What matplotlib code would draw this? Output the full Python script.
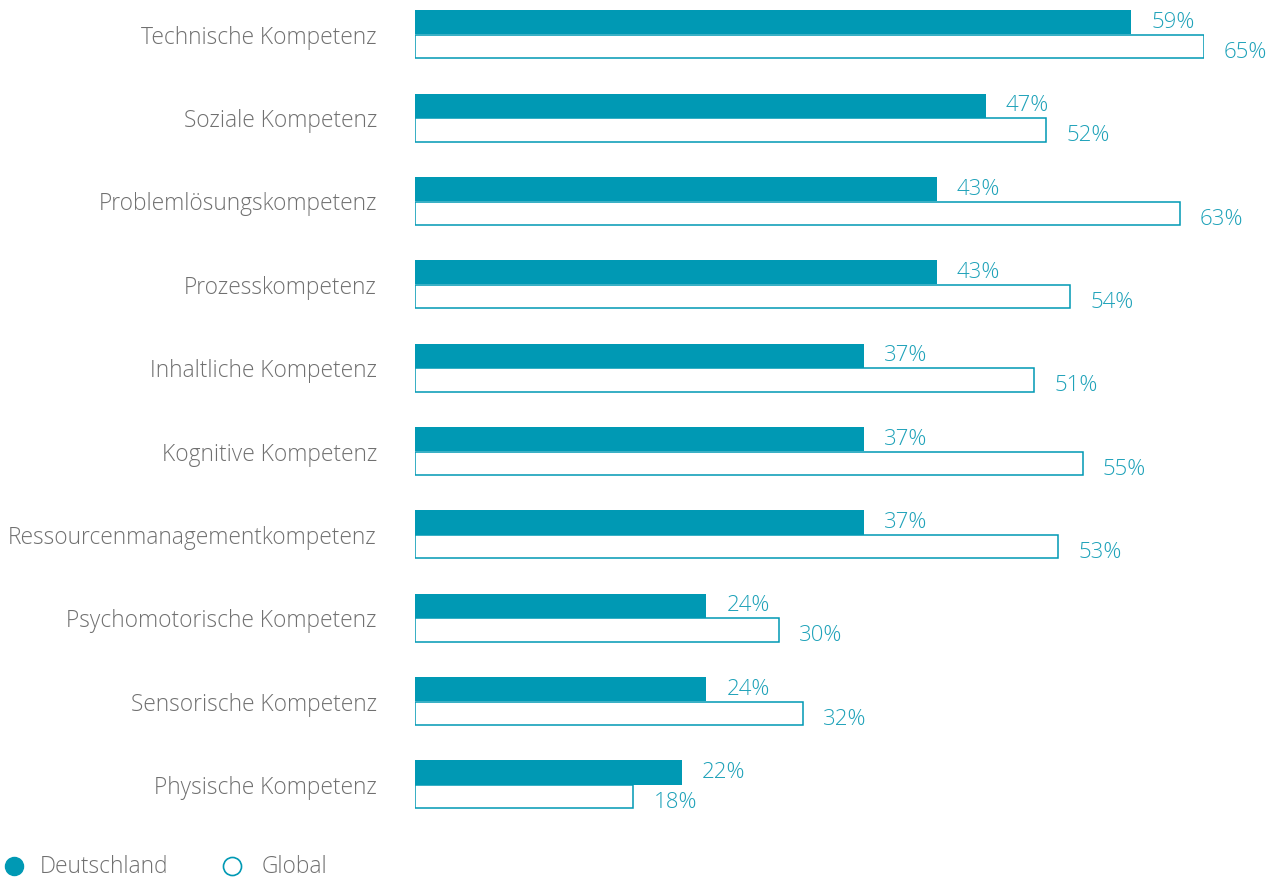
import matplotlib.pyplot as plt
from matplotlib.lines import Line2D

# Kompetenzen, sorted as shown (top to bottom)
categories = [
    "Technische Kompetenz",
    "Soziale Kompetenz",
    "Problemlösungskompetenz",
    "Prozesskompetenz",
    "Inhaltliche Kompetenz",
    "Kognitive Kompetenz",
    "Ressourcenmanagementkompetenz",
    "Psychomotorische Kompetenz",
    "Sensorische Kompetenz",
    "Physische Kompetenz",
]
deutschland = [59, 47, 43, 43, 37, 37, 37, 24, 24, 22]
global_vals = [65, 52, 63, 54, 51, 55, 53, 30, 32, 18]

TEAL = "#0099b4"
LABEL_TEAL = "#1ea2b9"
GREY = "#707070"
FONT = "Open Sans"

plt.rcParams["font.family"] = [FONT, "DejaVu Sans"]
plt.rcParams["font.weight"] = "light"

W, H = 1274, 880
fig = plt.figure(figsize=(W / 100, H / 100), dpi=100)

# axes spans bar area horizontally, whole figure vertically
left_px, right_px = 415, 1204
ax = fig.add_axes([left_px / W, 0, (right_px - left_px) / W, 1])
ax.set_xlim(0, 65)
ax.set_ylim(10.146, -0.414)
ax.axis("off")

bar_h = 0.29
rows = list(range(len(categories)))

ax.barh([r - bar_h / 2 for r in rows], deutschland, height=bar_h,
        color=TEAL, edgecolor=TEAL, linewidth=0)
ax.barh([r + bar_h / 2 for r in rows], global_vals, height=bar_h * 0.97,
        facecolor="white", edgecolor=TEAL, linewidth=1.1)

for r, d, g in zip(rows, deutschland, global_vals):
    ax.annotate(f"{d}%", (d, r), xytext=(14.4, 4.7), textcoords="offset points",
                ha="left", va="baseline", fontsize=16, color=LABEL_TEAL,
                fontweight="light")
    ax.annotate(f"{g}%", (g, r), xytext=(14.4, -16.9), textcoords="offset points",
                ha="left", va="baseline", fontsize=16, color=LABEL_TEAL,
                fontweight="light")
    ax.annotate(categories[r], (0, r), xytext=(-27.4, -2.4), textcoords="offset points",
                ha="right", va="center", fontsize=16.35, color=GREY,
                fontweight="light")

# legend at the bottom
ly = 1 - 866 / H
fig.add_artist(Line2D([14 / W], [ly], marker="o", markersize=13,
                      color=TEAL, markeredgecolor=TEAL, transform=fig.transFigure))
fig.add_artist(Line2D([232 / W], [ly], marker="o", markersize=13,
                      markerfacecolor="white", markeredgecolor=TEAL,
                      markeredgewidth=1.2, transform=fig.transFigure))
fig.text(40 / W, 1 - 867 / H, "Deutschland", ha="left", va="center",
         fontsize=16.4, color=GREY, fontweight="light")
fig.text(262 / W, 1 - 867 / H, "Global", ha="left", va="center",
         fontsize=16.4, color=GREY, fontweight="light")

fig.savefig("out.png", dpi=100)
